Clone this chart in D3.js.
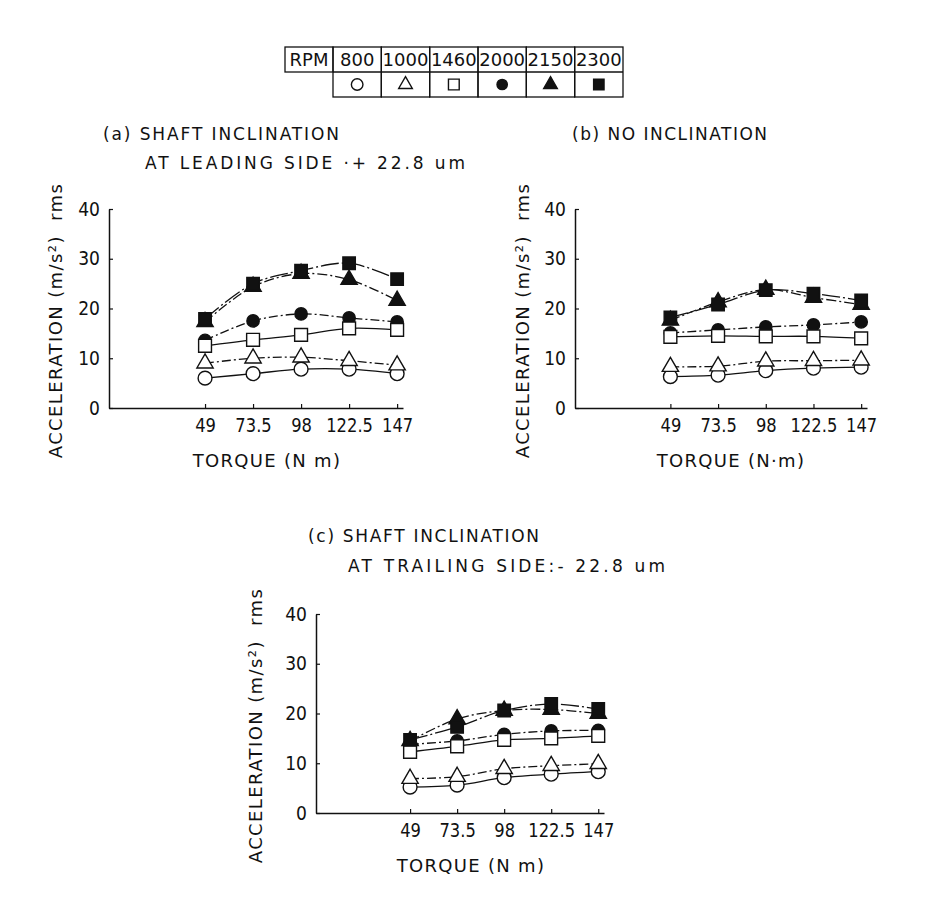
<!DOCTYPE html>
<html>
<head>
<meta charset="utf-8">
<script src="https://cdn.jsdelivr.net/npm/d3@7"></script>
<style>
  body { margin: 0; background: #fff; }
  svg text { font-family: "DejaVu Sans", sans-serif; fill: #111; }
</style>
</head>
<body>
<svg id="chart"></svg>
<script>
const width = 930,
      height = 924;

const torque = [49, 73.5, 98, 122.5, 147];
const rpms = [800, 1000, 1460, 2000, 2150, 2300];
const yTicks = [0, 10, 20, 30, 40];

// acceleration (m/s^2 rms), one row per rpm, one value per torque
const leadingSide = [
  [6.0, 6.9, 7.8, 7.8, 6.9],
  [9.0, 10.0, 10.2, 9.5, 8.6],
  [12.5, 13.7, 14.7, 16.0, 15.7],
  [13.6, 17.5, 18.9, 18.1, 17.3],
  [17.3, 24.4, 27.0, 25.8, 21.6],
  [17.9, 25.0, 27.6, 29.1, 25.9]
];
const noInclination = [
  [6.3, 6.6, 7.5, 8.0, 8.2],
  [8.3, 8.4, 9.4, 9.5, 9.6],
  [14.3, 14.5, 14.4, 14.4, 14.0],
  [15.1, 15.7, 16.3, 16.7, 17.3],
  [17.6, 21.3, 23.8, 22.2, 20.8],
  [18.2, 20.8, 23.7, 23.0, 21.6]
];
const trailingSide = [
  [5.2, 5.6, 7.1, 7.8, 8.3],
  [6.9, 7.3, 8.9, 9.5, 9.9],
  [12.3, 13.4, 14.7, 15.0, 15.5],
  [13.8, 14.5, 15.8, 16.5, 16.6],
  [14.5, 18.9, 20.6, 20.8, 20.0],
  [14.7, 17.3, 20.6, 21.9, 20.9]
];

const markers = [
  { shape: d3.symbolCircle, fill: "#fff", size: 150 },
  { shape: d3.symbolTriangle, fill: "#fff", size: 115 },
  { shape: d3.symbolSquare, fill: "#fff", size: 165 },
  { shape: d3.symbolCircle, fill: "#111", size: 120 },
  { shape: d3.symbolTriangle, fill: "#111", size: 115 },
  { shape: d3.symbolSquare, fill: "#111", size: 155 }
];
const dashes = [null, "9,3,2,3", null, "9,3,2,3", "10,3,2,3", "18,3,2,3"];
const drawOrder = [3, 0, 1, 2, 4, 5];

const panels = [
  { data: leadingSide, x0: 109, x1: 403, yTop: 209, yBot: 408,
    title: ["(a) SHAFT INCLINATION", "AT LEADING SIDE ·+ 22.8 um"],
    titleX: [103, 145], titleY: [140, 169], titleW: [236, 320],
    xLabel: "TORQUE (N m)", xLabelX: 267, yLabelX: 62 },
  { data: noInclination, x0: 575, x1: 867, yTop: 209, yBot: 408,
    title: ["(b) NO INCLINATION"],
    titleX: [572], titleY: [140], titleW: [195],
    xLabel: "TORQUE (N·m)", xLabelX: 731, yLabelX: 529 },
  { data: trailingSide, x0: 316, x1: 604, yTop: 614, yBot: 813,
    title: ["(c) SHAFT INCLINATION", "AT TRAILING SIDE:- 22.8 um"],
    titleX: [308, 348], titleY: [542, 572], titleW: [231, 317],
    xLabel: "TORQUE (N m)", xLabelX: 471, yLabelX: 262 }
];

const svg = d3.select("#chart")
  .attr("width", width)
  .attr("height", height);

// squeeze text horizontally, the original lettering is narrow
function squeeze(sel, k) {
  sel.each(function() {
    const w = this.getComputedTextLength();
    d3.select(this).attr("textLength", w * k).attr("lengthAdjust", "spacingAndGlyphs");
  });
}

function styleAxis(a) {
  a.attr("font-size", null).attr("font-family", null);
  a.select(".domain").attr("stroke", "#111").attr("stroke-width", 1.5);
  a.selectAll(".tick line").attr("stroke", "#111").attr("stroke-width", 1.2);
  a.selectAll(".tick text").attr("font-size", 19).attr("fill", "#111");
}

// legend table
const tableTop = 47, rowH = 25;
const col = d3.scaleBand().domain(rpms).range([333, 623]);
const table = svg.append("g")
  .attr("fill", "none")
  .attr("stroke", "#111")
  .attr("stroke-width", 1.3);

table.append("rect")
  .attr("x", 285).attr("y", tableTop)
  .attr("width", 333 - 285).attr("height", rowH);
table.selectAll("rect.cell")
  .data(rpms)
  .join("rect")
  .attr("class", "cell")
  .attr("x", d => col(d)).attr("y", tableTop)
  .attr("width", col.bandwidth()).attr("height", rowH * 2);
table.append("line")
  .attr("x1", 333).attr("x2", 623)
  .attr("y1", tableTop + rowH).attr("y2", tableTop + rowH);

svg.append("text")
  .attr("x", 309).attr("y", tableTop + 19)
  .attr("text-anchor", "middle")
  .attr("font-size", 18)
  .text("RPM");

svg.selectAll("text.rpm")
  .data(rpms)
  .join("text")
  .attr("class", "rpm")
  .attr("x", d => col(d) + col.bandwidth() / 2)
  .attr("y", tableTop + 19)
  .attr("text-anchor", "middle")
  .attr("font-size", 18)
  .text(d => d);

svg.selectAll("path.key")
  .data(rpms)
  .join("path")
  .attr("class", "key")
  .attr("transform", d => `translate(${col(d) + col.bandwidth() / 2},${tableTop + rowH * 1.5})`)
  .attr("d", (d, i) => d3.symbol().type(markers[i].shape).size(markers[i].size * 0.7)())
  .attr("fill", (d, i) => markers[i].fill)
  .attr("stroke", "#111")
  .attr("stroke-width", 1.4);

function drawPanel(p) {
  const x = d3.scaleLinear().domain([0, 150]).range([p.x0, p.x1]);
  const y = d3.scaleLinear().domain([0, 40]).range([p.yBot, p.yTop]);
  const g = svg.append("g");

  p.title.forEach((t, i) => {
    g.append("text")
      .attr("x", p.titleX[i]).attr("y", p.titleY[i])
      .attr("font-size", 17)
      .attr("textLength", p.titleW[i])
      .attr("lengthAdjust", "spacing")
      .text(t);
  });

  g.append("g")
    .attr("transform", `translate(0,${p.yBot})`)
    .call(d3.axisBottom(x).tickValues(torque).tickSize(-4).tickSizeOuter(0).tickPadding(11).tickFormat(d => d))
    .call(styleAxis)
    .call(a => squeeze(a.selectAll(".tick text"), 0.86));

  g.append("g")
    .attr("transform", `translate(${p.x0},0)`)
    .call(d3.axisLeft(y).tickValues(yTicks).tickSize(-4).tickSizeOuter(0).tickPadding(9))
    .call(styleAxis)
    .call(a => squeeze(a.selectAll(".tick text"), 0.9));

  g.append("text")
    .attr("x", p.xLabelX).attr("y", p.yBot + 59)
    .attr("text-anchor", "middle")
    .attr("font-size", 18)
    .attr("letter-spacing", 1.3)
    .text(p.xLabel);

  g.append("text")
    .attr("transform", `translate(${p.yLabelX},${(p.yTop + p.yBot) / 2 + 12}) rotate(-90)`)
    .attr("text-anchor", "middle")
    .attr("font-size", 18)
    .attr("letter-spacing", 1.4)
    .attr("xml:space", "preserve")
    .text("ACCELERATION (m/s²)  rms");

  const line = d3.line()
    .x((d, i) => x(torque[i]))
    .y(d => y(d))
    .curve(d3.curveCatmullRom.alpha(0.5));

  g.append("g")
    .selectAll("path")
    .data(p.data)
    .join("path")
    .attr("d", line)
    .attr("fill", "none")
    .attr("stroke", "#111")
    .attr("stroke-width", 1.3)
    .attr("stroke-dasharray", (d, i) => dashes[i]);

  drawOrder.forEach(k => {
    g.append("g")
      .selectAll("path")
      .data(p.data[k])
      .join("path")
      .attr("transform", (d, i) => `translate(${x(torque[i])},${y(d)})`)
      .attr("d", d3.symbol().type(markers[k].shape).size(markers[k].size)())
      .attr("fill", markers[k].fill)
      .attr("stroke", "#111")
      .attr("stroke-width", 1.4);
  });
}

panels.forEach(drawPanel);
</script>
</body>
</html>
